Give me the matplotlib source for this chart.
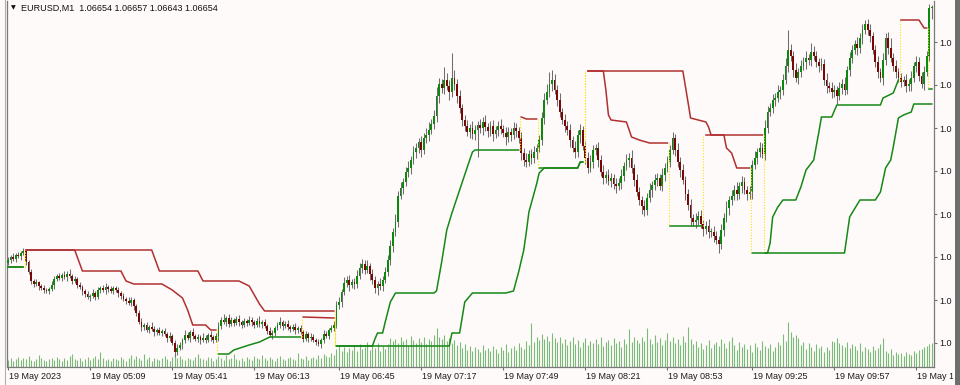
import numpy as np
import matplotlib
matplotlib.use("Agg")
import matplotlib.pyplot as plt
from matplotlib.patches import Rectangle
from matplotlib.lines import Line2D
import matplotlib.transforms as mtransforms

plt.rcParams["font.family"] = ["Liberation Sans", "DejaVu Sans"]

# prices are stored in points above 1.06000
base = 1.06
first_open = 399
close_pts = [
    402, 405, 403, 407, 406, 409, 411, 400, 390, 381,
    378, 380, 376, 374, 372, 371, 373, 377, 383, 386,
    384, 387, 385, 388, 386, 381, 383, 377, 375, 371,
    368, 365, 366, 369, 365, 372, 374, 372, 375, 373,
    371, 374, 372, 369, 366, 363, 361, 359, 362, 356,
    349, 340, 335, 337, 332, 335, 333, 330, 332, 329,
    331, 328, 324, 326, 319, 310, 314, 317, 322, 327,
    324, 330, 326, 323, 325, 322, 324, 322, 327, 325,
    322, 326, 336, 342, 340, 344, 338, 342, 339, 343,
    340, 337, 341, 339, 342, 340, 337, 341, 338, 340,
    336, 331, 327, 329, 334, 337, 340, 336, 338, 335,
    333, 335, 332, 334, 330, 323, 328, 324, 325, 322,
    320, 318, 322, 328, 326, 332, 334, 337, 357, 360,
    370, 379, 382, 377, 380, 378, 386, 394, 398, 392,
    396, 388, 382, 374, 378, 376, 382, 390, 402, 416,
    430, 440, 466, 474, 480, 490, 494, 502, 510, 514,
    520, 512, 524, 527, 532, 538, 546, 566, 578, 574,
    582, 576, 570, 584, 578, 566, 554, 542, 536, 530,
    534, 528, 532, 537, 534, 540, 535, 531, 536, 528,
    532, 536, 533, 529, 525, 530, 527, 534, 531, 524,
    509, 502, 500, 508, 504, 510, 514, 522, 544, 562,
    570, 578, 582, 572, 562, 550, 542, 536, 532, 522,
    514, 510, 527, 532, 516, 504, 494, 500, 512, 514,
    502, 490, 484, 487, 481, 484, 478, 476, 479, 486,
    496, 502, 504, 494, 482, 470, 462, 456, 452, 464,
    472, 477, 482, 484, 476, 487, 494, 500, 512, 524,
    512, 500, 492, 482, 468, 457, 444, 440, 442, 446,
    438, 433, 436, 430, 430, 426, 422, 418, 432, 444,
    454, 462, 466, 472, 468, 476, 480, 472, 468, 470,
    497, 504, 510, 514, 508, 534, 550, 554, 562, 564,
    570, 572, 582, 596, 612, 606, 592, 584, 590, 596,
    600, 604, 602, 610, 606, 600, 596, 598, 582, 576,
    574, 570, 572, 566, 574, 578, 572, 592, 604, 612,
    618, 614, 624, 632, 638, 632, 626, 612, 600, 590,
    584, 602, 624, 614, 604, 596, 590, 584, 580, 582,
    576, 578, 584, 596, 600, 586, 578, 590, 606, 654,
    654,
]
hi_wick = [
    3, 2, 4, 2, 3, 2, 3, 2, 2, 3, 2, 3, 1, 2, 3, 2, 2, 4, 3, 2,
    3, 2, 4, 3, 5, 2, 3, 2, 3, 2, 2, 3, 2, 4, 2, 3, 2, 3, 4, 2,
    3, 2, 2, 3, 2, 3, 2, 4, 3, 2, 2, 3, 4, 2, 3, 2, 5, 3, 2, 3,
    2, 3, 2, 4, 2, 3, 4, 3, 2, 5, 3, 2, 4, 2, 3, 2, 5, 3, 2, 4,
    2, 3, 4, 3, 6, 2, 4, 3, 2, 3, 4, 2, 3, 2, 4, 3, 2, 3, 5, 2,
    3, 2, 4, 3, 2, 3, 5, 2, 3, 4, 2, 3, 4, 2, 3, 2, 3, 2, 4, 3,
    2, 3, 2, 4, 3, 2, 3, 4,
    4, 5, 3, 6, 4, 5, 3, 4, 6, 5, 5, 4, 6, 3, 5, 4, 3, 6, 4, 5,
    5, 6, 4, 8, 5, 6, 4, 5, 7, 4, 6, 5, 4, 6, 5, 7, 8, 5, 6, 9,
    6, 5, 13, 7, 6, 25, 8, 5, 6, 4, 5, 6, 4, 7, 5, 4, 6, 5, 7, 4,
    5, 6, 4, 5, 7, 4, 6, 5, 4, 6, 5, 4, 6, 5, 7, 4, 5, 6, 4, 5,
    6, 7, 8, 12, 10, 6, 5, 7, 4, 6, 5, 6, 4, 7, 5, 6, 4, 5, 6, 7,
    5, 4, 6, 5, 7, 4, 6, 5, 4, 6, 5, 7, 4, 6, 5, 8, 4, 6, 5, 4,
    6, 5, 7, 4, 6, 5, 4, 7, 5, 6, 5, 6, 4, 7, 5, 6, 4, 5, 6, 4,
    7, 5, 6, 4, 5, 7, 4, 6, 5, 4, 6, 5, 7, 4, 6, 5, 8, 4, 6, 5,
    4, 6, 5, 7, 4, 6, 5, 8, 6, 5, 6, 5, 7, 4, 6, 8, 20, 6, 5, 7,
    4, 6, 5, 7, 4, 9, 6, 5, 4, 6, 5, 7, 4, 6, 5, 4, 6, 5, 7, 4,
    6, 5, 4, 7, 5, 6, 4, 5, 6, 4, 5, 6, 4, 7, 5, 6, 10, 5, 6, 4,
    5, 4, 6, 5, 7, 4, 6, 5, 4, 6, 5, 4, 3,
]
lo_wick = [
    2, 3, 2, 3, 2, 4, 2, 3, 2, 3, 3, 2, 4, 2, 3, 2, 3, 2, 4, 2,
    2, 3, 2, 4, 2, 3, 2, 3, 2, 4, 3, 2, 4, 2, 3, 2, 3, 2, 4, 3,
    2, 3, 2, 4, 3, 2, 3, 2, 3, 4, 3, 2, 4, 3, 2, 3, 2, 4, 3, 2,
    3, 2, 4, 3, 2, 5, 3, 2, 4, 3, 2, 4, 3, 2, 3, 4, 2, 3, 2, 4,
    3, 2, 5, 3, 2, 4, 3, 2, 3, 2, 4, 3, 2, 3, 2, 4, 3, 2, 3, 4,
    2, 3, 2, 4, 3, 2, 3, 4, 2, 3, 3, 2, 4, 3, 2, 3, 2, 4, 3, 2,
    3, 2, 4, 3, 2, 3, 2, 3,
    3, 4, 5, 3, 4, 6, 3, 5, 4, 3, 5, 4, 3, 6, 4, 5, 7, 4, 5, 3,
    4, 5, 6, 4, 5, 3, 6, 4, 5, 6, 4, 6, 5, 7, 4, 5, 6, 4, 5, 6,
    7, 5, 6, 4, 8, 5, 6, 7, 5, 6, 5, 4, 6, 5, 6, 27, 5, 7, 4, 6,
    5, 7, 4, 6, 5, 4, 8, 5, 6, 4, 6, 5, 7, 6, 5, 4, 6, 5, 7, 4,
    5, 6, 4, 5, 7, 4, 6, 5, 4, 6, 5, 7, 4, 6, 5, 8, 4, 6, 5, 4,
    6, 5, 7, 4, 6, 5, 4, 6, 5, 7, 4, 6, 5, 4, 7, 5, 6, 4, 5, 8,
    6, 5, 4, 7, 5, 6, 4, 5, 6, 4, 5, 4, 6, 5, 7, 4, 6, 5, 8, 4,
    6, 5, 4, 7, 5, 6, 5, 6, 4, 9, 5, 6, 4, 7, 5, 4, 6, 5, 7, 4,
    6, 5, 7, 4, 6, 5, 4, 6, 5, 4, 5, 6, 4, 7, 5, 4, 6, 5, 7, 4,
    6, 5, 4, 7, 5, 6, 4, 5, 6, 4, 5, 7, 4, 6, 5, 8, 4, 6, 5, 4,
    6, 5, 4, 7, 5, 6, 4, 5, 6, 4, 5, 6, 4, 7, 5, 6, 4, 5, 6, 4,
    5, 4, 6, 5, 7, 4, 6, 5, 4, 6, 4, 5, 11,
]
volume = [
    70, 90, 60, 80, 100, 70, 90, 80, 110, 70,
    60, 80, 120, 90, 70, 60, 80, 90, 70, 100,
    80, 60, 90, 70, 110, 130, 80, 70, 90, 60,
    80, 100, 70, 90, 110, 80, 150, 90, 70, 80,
    60, 90, 80, 70, 100, 80, 60, 90, 120, 80,
    110, 90, 70, 130, 80, 100, 60, 90, 80, 70,
    90, 110, 80, 60, 100, 130, 90, 110, 80, 70,
    90, 80, 70, 100, 130, 90, 80, 70, 100, 90,
    60, 80, 110, 90, 70, 120, 80, 90, 130, 80,
    70, 90, 60, 100, 80, 70, 110, 90, 80, 120,
    90, 70, 100, 80, 60, 90, 110, 80, 70, 90,
    100, 80, 70, 140, 90, 80, 110, 70, 90, 100,
    80, 120, 90, 130, 110, 100, 140, 120,
    180, 220, 160, 200, 150, 190, 170, 210, 160, 230,
    180, 200, 250, 170, 220, 190, 240, 160, 210, 180,
    230, 290, 260, 280, 240, 300, 260, 280, 220, 310,
    270, 240, 290, 250, 300, 230, 280, 260, 320, 390,
    300, 280, 320, 260, 290, 240, 270, 220, 250, 190,
    230, 170, 210, 160, 200, 180, 150, 220, 170, 190,
    160, 210, 180, 140, 200, 170, 230, 150, 190, 210,
    170, 240, 200, 180, 260, 220, 440, 250, 300, 270,
    330, 280, 310, 260, 340, 290, 250, 300, 240, 280,
    220, 260, 300, 230, 270, 200, 250, 290, 220, 260,
    240, 280, 230, 300, 210, 250, 270, 220, 290, 240,
    260, 200, 280, 230, 380, 250, 300, 270, 240, 300,
    260, 390, 280, 230, 320, 250, 290, 220, 270, 340,
    260, 300, 240, 280, 220, 310, 250, 400, 280, 230,
    260, 200, 240, 180, 220, 270, 190, 230, 250, 210,
    280, 240, 190, 260, 300, 220, 170, 250, 200, 230,
    180, 220, 150, 240, 200, 170, 260, 210, 190, 230,
    160, 200, 250, 220, 330, 260, 450, 350, 300, 320,
    290, 220, 250, 180, 240, 200, 160, 230, 190, 210,
    150, 200, 170, 260, 250, 290, 240, 220, 200, 250,
    190, 230, 210, 170, 240, 160, 200, 180, 150, 210,
    170, 190, 230, 290, 160, 140, 180, 120, 150, 130,
    140, 110, 150, 130, 120, 160, 140, 170, 180, 200,
    210, 230, 240,
]

# trailing stop lines: segments of (side, bar indices, levels in points)
slow_side = ["g", "r", "g", "r", "g"]
slow_bars = [
    [0, 6],
    [7, 56, 58, 59, 74, 75, 76, 90, 94, 98, 100, 127],
    [128, 172, 173, 176, 178, 181, 194, 197, 199, 201, 202, 203, 206, 207, 209, 222, 223, 224],
    [226, 263, 265, 266, 272, 273, 274, 294],
    [295, 326, 328, 332, 338, 340, 342, 344, 345, 347, 349, 352, 353, 360],
]
slow_vals = [
    [395, 395],
    [412, 412, 398, 391, 391, 386, 381, 381, 376, 358, 351, 351],
    [316, 316, 329, 329, 360, 369, 369, 371, 390, 412, 430, 450, 478, 489, 494, 494, 500, 500],
    [591, 591, 560, 544, 540, 535, 527, 527],
    [409, 409, 445, 462, 462, 470, 494, 502, 515, 544, 547, 550, 558, 558],
]
fast_side = ["g", "r", "g", "r", "g", "r", "g", "r", "g", "r", "g", "r", "g"]
fast_bars = [
    [0, 6],
    [7, 26, 28, 29, 44, 45, 46, 49, 60, 64, 68, 70, 72, 77, 79, 81],
    [82, 86, 88, 94, 98, 102, 114],
    [115, 127],
    [128, 142, 143, 144, 146, 147, 149, 151, 166, 167, 169, 171, 173, 176, 179, 181, 182, 199],
    [200, 202, 206],
    [207, 222, 223, 224],
    [226, 232, 233, 234, 235, 241, 243, 246, 250, 257],
    [258, 270],
    [272, 279, 280, 282, 284, 289],
    [290, 296, 297, 298, 300, 302, 307, 309, 311, 314, 316, 317, 321, 323, 340, 341, 345, 347],
    [348, 355, 357, 358],
    [359, 360],
]
fast_vals = [
    [395, 395],
    [412, 412, 398, 391, 391, 386, 381, 378, 378, 372, 364, 352, 337, 337, 332, 332],
    [308, 308, 312, 317, 320, 325, 325],
    [345, 344],
    [316, 316, 323, 329, 329, 340, 360, 369, 369, 371, 400, 432, 449, 472, 495, 510, 512, 512],
    [545, 543, 543],
    [494, 494, 500, 500],
    [591, 591, 572, 547, 542, 540, 525, 522, 519, 519],
    [436, 436],
    [527, 527, 514, 509, 494, 494],
    [409, 409, 419, 445, 455, 462, 462, 475, 492, 502, 530, 545, 545, 557, 557, 564, 569, 582],
    [642, 642, 634, 634],
    [573, 573],
]

time_labels = ["19 May 2023", "19 May 05:09", "19 May 05:41", "19 May 06:13",
               "19 May 06:45", "19 May 07:17", "19 May 07:49", "19 May 08:21",
               "19 May 08:53", "19 May 09:25", "19 May 09:57", "19 May 10:29"]
label_bars = [0, 32, 64, 96, 129, 161, 193, 225, 257, 290, 322, 354]
price_ticks = [620, 577, 534, 491, 448, 405, 362, 319]
header = "EURUSD,M1  1.06654 1.06657 1.06643 1.06654"

bg = "#FFFAFA"
c_bull = "#0E870E"
c_bear = "#780808"
c_wick = "#6E6E6E"
c_red = "#B03030"
c_green = "#168816"
c_vol = "#78BC78"


def px(p):
    return base + np.asarray(p, dtype=float) / 1e5


close = np.array(close_pts, dtype=float)
open_ = np.concatenate([[first_open], close[:-1]])
high = np.maximum(open_, close) + np.array(hi_wick)
low = np.minimum(open_, close) - np.array(lo_wick)
bars = np.arange(len(close))

W, H = 960, 385
fig = plt.figure(figsize=(W / 100, H / 100), dpi=100, facecolor=bg)
rect = [7 / W, 18 / H, (934 - 7) / W, (367 - 1) / H]
x_range = (-0.39, 360.87)

axv = fig.add_axes(rect)
axv.set_facecolor(bg)
axv.vlines(bars, 0, volume, color=c_vol, lw=0.8)
axv.set_ylim(0, 3660)
axv.set_xlim(*x_range)
axv.axis("off")

ax = fig.add_axes(rect, sharex=axv)
ax.patch.set_alpha(0)

# candles
ax.vlines(bars, px(low), px(high), color=c_wick, lw=0.75, zorder=2)
up = close >= open_
body_h = np.maximum(np.abs(close - open_), 0.8) / 1e5
body_b = px(np.minimum(open_, close))
ax.bar(bars[up], body_h[up], bottom=body_b[up], width=0.7, color=c_bull, lw=0, zorder=3)
ax.bar(bars[~up], body_h[~up], bottom=body_b[~up], width=0.7, color=c_bear, lw=0, zorder=3)


def draw_stop(sides, seg_bars, seg_vals):
    for k in range(len(sides)):
        col = c_red if sides[k] == "r" else c_green
        ax.plot(seg_bars[k], px(seg_vals[k]), color=col, lw=1.1, zorder=4,
                solid_joinstyle="round")
        if k > 0:
            xm = (seg_bars[k - 1][-1] + seg_bars[k][0]) / 2
            ax.vlines(xm, px(seg_vals[k - 1][-1]), px(seg_vals[k][0]),
                      color="#F2E600", lw=0.8, linestyles=(0, (1, 1.5)), zorder=4)


draw_stop(slow_side, slow_bars, slow_vals)
draw_stop(fast_side, fast_bars, fast_vals)

ax.set_xlim(*x_range)
ax.set_ylim(px(295), px(661))

ax.yaxis.tick_right()
ax.set_yticks(px(price_ticks))
ax.set_yticklabels(["1.0"] * len(price_ticks))
ax.tick_params(axis="y", length=2.2, width=0.8, color="#707070", pad=1.4,
               labelsize=6.5, labelcolor="#1A1A1A")
ax.set_xticks(label_bars)
ax.set_xticklabels([])
ax.tick_params(axis="x", length=2.2, width=0.8, color="#707070")

ax.spines["top"].set_visible(False)
for s in ["left", "right", "bottom"]:
    ax.spines[s].set_color("#7A7A7A")
    ax.spines[s].set_linewidth(0.9)

clip = Rectangle((0, 0), 953 / W, 1, transform=fig.transFigure)
trans = mtransforms.blended_transform_factory(ax.transData, ax.transAxes)
for b, lab in zip(label_bars, time_labels):
    t = ax.text(b + 0.3, -9.5 / 366, lab, transform=trans, ha="left", va="center",
                fontsize=6.5, color="#1A1A1A", clip_on=True)
    t.set_clip_path(clip)

fig.text(21 / W, 1 - 8 / H, header, ha="left", va="center", fontsize=6.5, color="#101010")
fig.text(13 / W, 1 - 8 / H, "\u25BC", ha="center", va="center", fontsize=4.5,
         color="#101010", family="DejaVu Sans")

fig.add_artist(Line2D([4.5 / W, 4.5 / W], [0, 1], color="#B0B0B0", lw=0.8))
fig.add_artist(Rectangle((955 / W, 0), 5 / W, 1, transform=fig.transFigure,
                         color="#6E6E6E", lw=0))

fig.savefig("out.png", dpi=100, facecolor=bg)
